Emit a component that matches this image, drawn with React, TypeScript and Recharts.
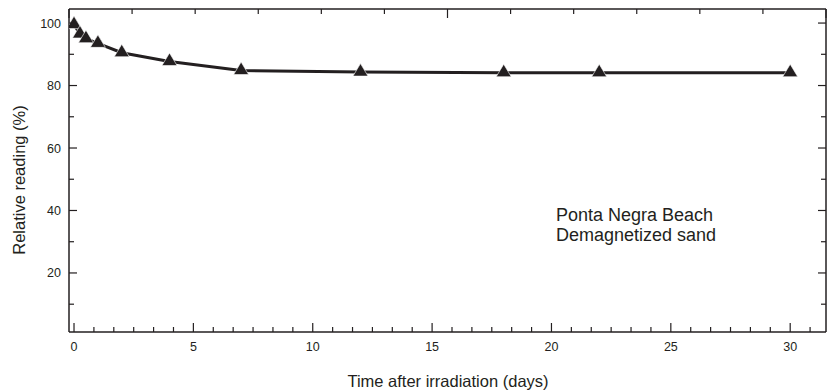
import { Line, LineChart, XAxis, YAxis } from "recharts"

const days = [0, 0.25, 0.5, 1, 2, 4, 7, 12, 18, 22, 30]
const reading = [99.5, 96.5, 95, 93.5, 90.5, 87.7, 84.8, 84.3, 84.1, 84.1, 84.1]

const xMajorTicks = [0, 5, 10, 15, 20, 25, 30]
const yMajorTicks = [20, 40, 60, 80, 100]
const xMinorPerMajor = 6
const yMinorPerMajor = 2

const noteLines = ["Ponta Negra Beach", "Demagnetized sand"]
const xTitle = "Time after irradiation (days)"
const yTitle = "Relative reading (%)"

const INK = "#231f20"
const FONT = "'Liberation Sans', Arial, Helvetica, sans-serif"

const rows = days.map((d, i) => ({ day: d, value: reading[i] }))

const xStep = (xMajorTicks[1] - xMajorTicks[0]) / xMinorPerMajor
const xTicks = Array.from({ length: 38 }, (_, i) => i * xStep)
const yStep = (yMajorTicks[1] - yMajorTicks[0]) / yMinorPerMajor
const yTicks = Array.from({ length: 10 }, (_, i) => (i + 1) * yStep)

const onMajor = (v: number, list: number[]) => list.some((m) => Math.abs(m - v) < 1e-6)

function BottomTick({ x, y, payload }: any) {
  const major = onMajor(payload.value, xMajorTicks)
  return (
    <g>
      <line x1={x} x2={x} y1={y} y2={y - (major ? 9 : 5)} stroke={INK} strokeWidth={1.2} />
      {major && (
        <text x={x} y={y + 19} textAnchor="middle" fontSize={12.5} fill={INK} fontFamily={FONT}>
          {Math.round(payload.value)}
        </text>
      )}
    </g>
  )
}

function TopTick({ x, y, payload }: any) {
  const major = onMajor(payload.value, xMajorTicks)
  return <line x1={x} x2={x} y1={y} y2={y + (major ? 9 : 5)} stroke={INK} strokeWidth={1.2} />
}

function LeftTick({ x, y, payload }: any) {
  const major = onMajor(payload.value, yMajorTicks)
  return (
    <g>
      <line x1={x} x2={x + (major ? 8 : 5)} y1={y} y2={y} stroke={INK} strokeWidth={1.2} />
      {major && (
        <text x={x - 8} y={y + 4.5} textAnchor="end" fontSize={12.5} fill={INK} fontFamily={FONT}>
          {payload.value}
        </text>
      )}
    </g>
  )
}

function RightTick({ x, y, payload }: any) {
  const major = onMajor(payload.value, yMajorTicks)
  return <line x1={x} x2={x - (major ? 8 : 5)} y1={y} y2={y} stroke={INK} strokeWidth={1.2} />
}

function TriangleDot({ cx, cy }: any) {
  if (cx == null || cy == null) return null
  return (
    <polygon
      points={`${cx},${cy - 8.5} ${cx + 7.5},${cy + 4} ${cx - 7.5},${cy + 4}`}
      fill={INK}
      stroke="#ffffff"
      strokeWidth={0.6}
    />
  )
}

const axisLine = { stroke: INK, strokeWidth: 1.5 }

export default function App() {
  return (
    <div style={{ position: "absolute", left: 0, top: 0, width: 829, height: 392, background: "#fff", fontFamily: FONT }}>
      <LineChart width={829} height={392} data={rows} margin={{ top: 0, right: 2, left: 0, bottom: 0 }}>
        <XAxis
          xAxisId="b"
          dataKey="day"
          type="number"
          domain={[-0.21, 31.5]}
          allowDataOverflow
          ticks={xTicks}
          interval={0}
          height={60}
          tickSize={0}
          tickMargin={0}
          tickLine={false}
          axisLine={axisLine}
          tick={(p: any) => <BottomTick {...p} />}
        />
        <XAxis
          xAxisId="t"
          orientation="top"
          type="number"
          domain={[-0.21, 31.5]}
          allowDataOverflow
          ticks={xTicks}
          interval={0}
          height={9}
          tickSize={0}
          tickMargin={0}
          tickLine={false}
          axisLine={axisLine}
          tick={(p: any) => <TopTick {...p} />}
        />
        <YAxis
          yAxisId="l"
          type="number"
          domain={[1.1, 104.5]}
          allowDataOverflow
          ticks={yTicks}
          interval={0}
          width={69}
          tickSize={0}
          tickMargin={0}
          tickLine={false}
          axisLine={axisLine}
          tick={(p: any) => <LeftTick {...p} />}
        />
        <YAxis
          yAxisId="r"
          orientation="right"
          type="number"
          domain={[1.1, 104.5]}
          allowDataOverflow
          ticks={yTicks}
          interval={0}
          width={1}
          tickSize={0}
          tickMargin={0}
          tickLine={false}
          axisLine={axisLine}
          tick={(p: any) => <RightTick {...p} />}
        />
        <Line
          xAxisId="b"
          yAxisId="l"
          dataKey="value"
          type="linear"
          stroke={INK}
          strokeWidth={3}
          dot={(p: any) => <TriangleDot key={p.index} {...p} />}
          activeDot={false}
          isAnimationActive={false}
        />
      </LineChart>
      <div style={{ position: "absolute", left: 556, top: 205, fontSize: 18, lineHeight: "20px", color: INK }}>
        {noteLines.map((t) => (
          <div key={t}>{t}</div>
        ))}
      </div>
      <div style={{ position: "absolute", left: 248, width: 400, top: 372, textAlign: "center", fontSize: 16.5, color: INK }}>
        {xTitle}
      </div>
      <div
        style={{
          position: "absolute",
          left: 19,
          top: 180,
          fontSize: 16.5,
          color: INK,
          whiteSpace: "nowrap",
          transform: "translate(-50%, -50%) rotate(-90deg)",
        }}
      >
        {yTitle}
      </div>
    </div>
  )
}
